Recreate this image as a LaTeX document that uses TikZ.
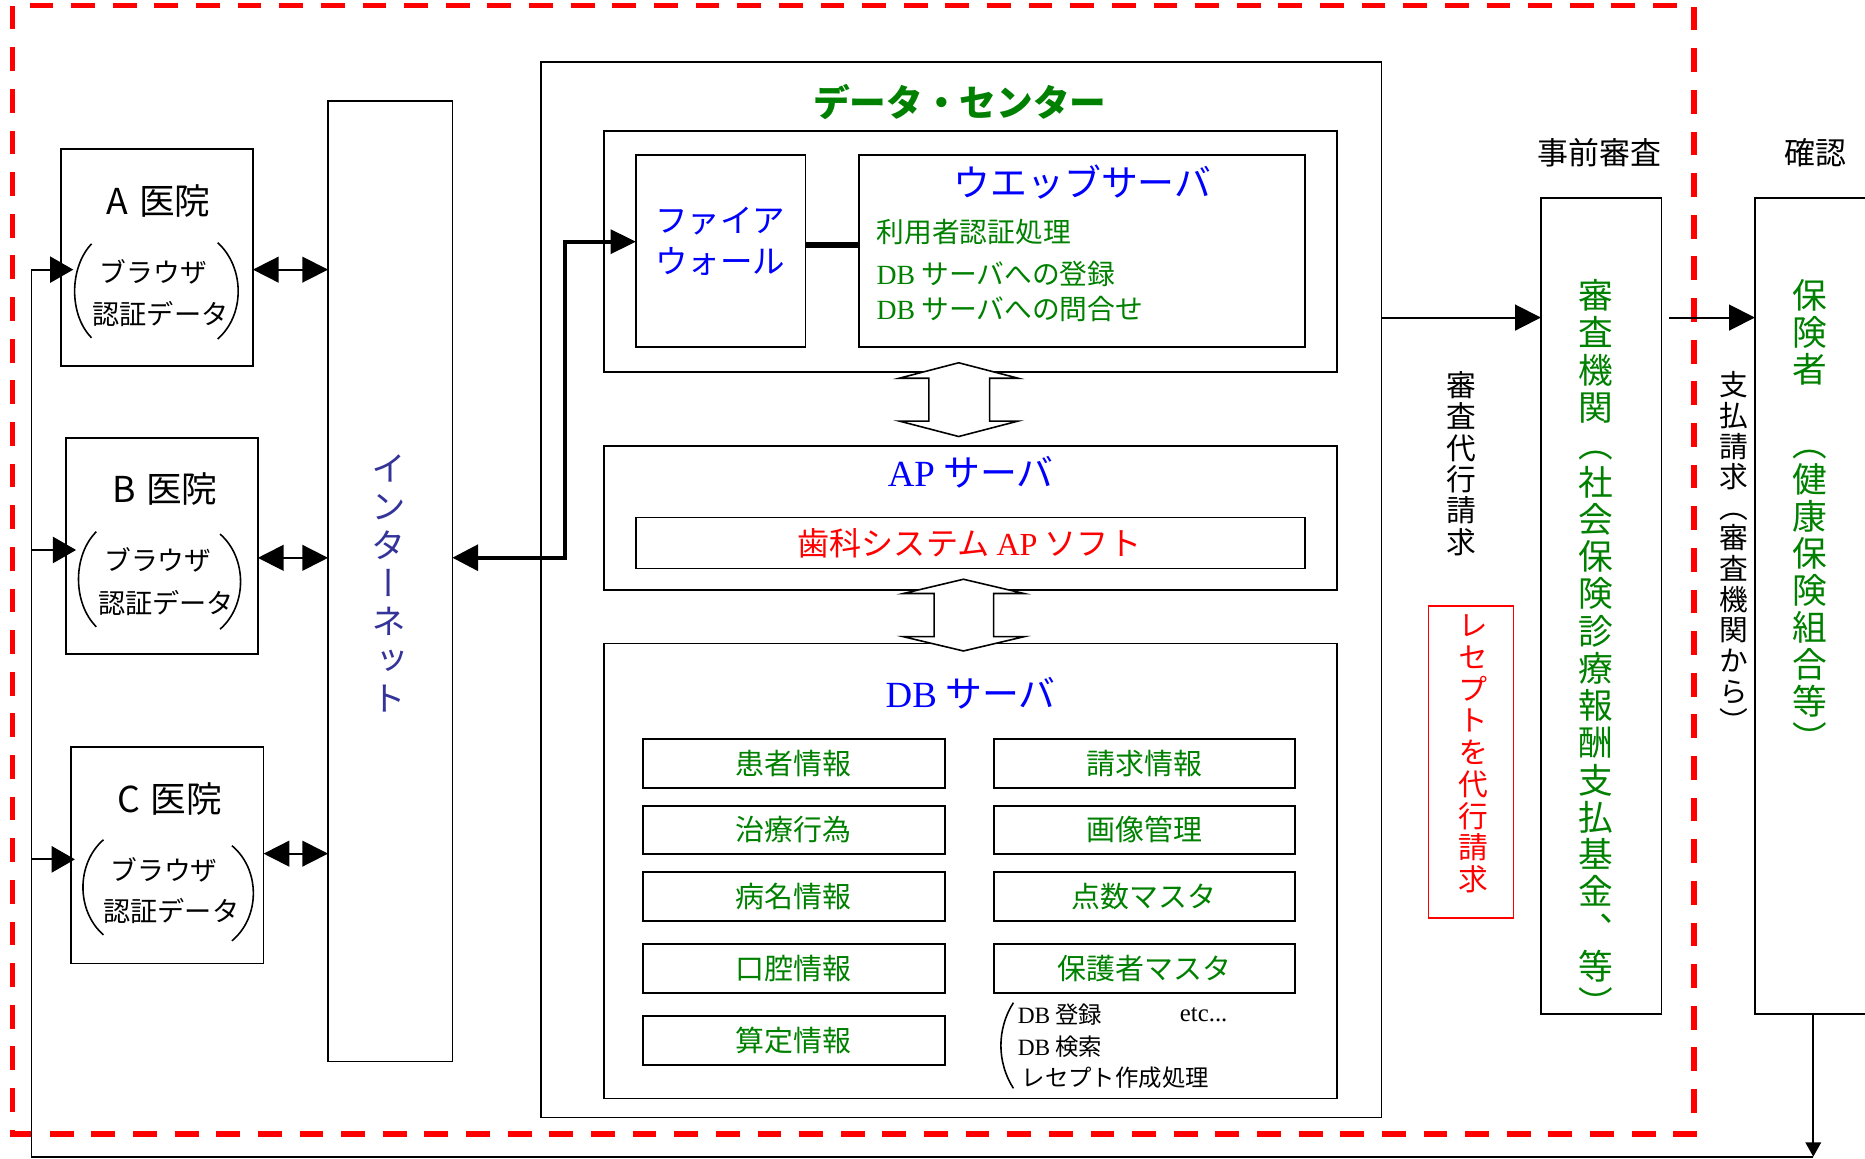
\documentclass[tikz,border=0pt]{standalone}
\usepackage{fontspec}
\setmainfont{Noto Sans CJK JP}
\newfontfamily\vjp[RawFeature=+vert]{Noto Sans CJK JP}
\newfontfamily\lserif{Liberation Serif}
\usetikzlibrary{arrows.meta,fit}
\definecolor{dgreen}{RGB}{0,128,0}
\definecolor{iblue}{RGB}{51,51,153}
\definecolor{pblue}{RGB}{0,0,255}
\definecolor{pred}{RGB}{255,0,0}
\newcommand\myfs[2]{\fontsize{#1pt}{#2pt}\selectfont}
\begin{document}
\begin{tikzpicture}[x=0.6pt,y=-0.6pt,
  box/.style={draw=black,line width=0.9pt,inner sep=0pt,outer sep=0pt},
  txt/.style={inner sep=0pt,outer sep=0pt},
  larr/.style={line width=0.9pt,-{Triangle[length=11.7pt,width=13.2pt]}},
  darr/.style={line width=0.9pt,{Triangle[length=13pt,width=13pt]}-{Triangle[length=13pt,width=13pt]}},
  tarr/.style={line width=2pt,{Triangle[length=13pt,width=13pt]}-{Triangle[length=12.8pt,width=12pt]}},
  rarr/.style={line width=1pt,-{Triangle[length=13pt,width=13pt]}},
  sarr/.style={line width=0.9pt,-{Triangle[length=7.2pt,width=7.8pt]}},
  paren/.style={line width=0.8pt},
  blockarr/.style={draw=black,line width=0.8pt,fill=white},
  redframe/.style={draw=pred,line width=2.8pt,dash pattern=on 12pt off 9pt},
  dbitem/.style={box,line width=1pt},
  dbtxt/.style={txt,text=dgreen,font=\myfs{14.6}{17}},
  vcol/.style={txt,align=center,anchor=north},
]
\path[use as bounding box] (0,0) rectangle (1568,974);
\clip (0,0) rectangle (1568,974);

% red dashed frame
\draw[redframe] (10.6,4.8) rectangle (1424,953.5);

% clinics
\node[box,fit={(51,125.6) (212.6,307.4)}] (A) {};
\node[box,fit={(55.6,368) (216.8,549.8)}] (B) {};
\node[box,fit={(60,628.3) (221.6,810)}] (C) {};
\node[txt,font=\myfs{18}{20}] (At) at (133.5,169) {A\hspace{0.3em}医院};
\node[txt,font=\myfs{13.5}{16}] (Ab) at (129,229) {ブラウザ};
\node[txt,font=\myfs{13.7}{16}] (Ad) at (135,264) {認証データ};
\node[txt,font=\myfs{18}{20}] (Bt) at (138.6,411) {B\hspace{0.3em}医院};
\node[txt,font=\myfs{13.5}{16}] (Bb) at (132.7,471) {ブラウザ};
\node[txt,font=\myfs{13.7}{16}] (Bd) at (139.6,507) {認証データ};
\node[txt,font=\myfs{18}{20}] (Ct) at (142.6,672) {C\hspace{0.3em}医院};
\node[txt,font=\myfs{13.5}{16}] (Cb) at (138,731) {ブラウザ};
\node[txt,font=\myfs{13.7}{16}] (Cd) at (144,766) {認証データ};
% parentheses
\draw[paren] (77,205) .. controls (58,225) and (58,265) .. (77,284);
\draw[paren] (183,204) .. controls (206,225) and (206,265) .. (183,285);
\draw[paren] (81,447) .. controls (61,467) and (61,507) .. (81,527);
\draw[paren] (185,449) .. controls (208,469) and (208,509) .. (185,529);
\draw[paren] (87,706) .. controls (64,726) and (64,766) .. (87,786);
\draw[paren] (195,711) .. controls (219,731) and (219,771) .. (195,791);

% internet
\node[box,line width=0.8pt,fit={(275.8,85) (380.3,892.6)}] (inet) {};
\node[vcol,text=iblue,font=\vjp\myfs{17.5}{19.3}] (inett) at (326.5,382.5) {イ\\ン\\タ\\ー\\ネ\\ッ\\ト};

% data center
\node[box,fit={(455,52) (1161.5,939.5)}] (dc) {};
\node[txt,text=dgreen,font=\bfseries\myfs{18.5}{20}] (dct) at (807,86) {データ・センター};
\node[box,fit={(507.6,110) (1124,312.5)}] (wg) {};
\node[box,fit={(534.7,130.6) (677.3,292)}] (fw) {};
\node[box,fit={(722.5,130.6) (1097.4,292)}] (ws) {};
\node[txt,anchor=west,align=left,text=pblue,font=\myfs{16.4}{20.4}] (fwt) at (551,203) {ファイア\\ウォール};
\node[txt,text=pblue,font=\myfs{18.6}{20}] (wst) at (910,153) {ウエッブサーバ};
\node[txt,anchor=west,text=dgreen,font=\myfs{14}{16}] (ws1) at (737,195) {利用者認証処理};
\node[txt,anchor=west,text=dgreen,font=\myfs{14}{16}] (ws2) at (737,230) {{\lserif DB} サーバへの登録};
\node[txt,anchor=west,text=dgreen,font=\myfs{14}{16}] (ws3) at (737,260) {{\lserif DB} サーバへの問合せ};

\node[box,fit={(507.6,374.7) (1124,496)}] (ap) {};
\node[box,fit={(534.7,435) (1097,478)}] (aps) {};
\node[txt,text=pblue,font=\myfs{18.6}{20}] (apt) at (816,397) {{\lserif AP} サーバ};
\node[txt,text=pred,font=\myfs{16.2}{18}] (apst) at (815,457) {歯科システム {\lserif AP} ソフト};

\node[box,fit={(507.6,541) (1124,923.5)}] (db) {};
\node[txt,text=pblue,font=\myfs{18.6}{20}] (dbt) at (816,583) {{\lserif DB} サーバ};
\node[dbitem,fit={(540.4,621.3) (794.2,662.2)}] (d1) {};
\node[dbitem,fit={(835.4,621.3) (1088.4,662.2)}] (d2) {};
\node[dbitem,fit={(540.4,677.4) (794.2,718)}] (d3) {};
\node[dbitem,fit={(835.4,677.4) (1088.4,718)}] (d4) {};
\node[dbitem,fit={(540.4,733.4) (794.2,774)}] (d5) {};
\node[dbitem,fit={(835.4,733.4) (1088.4,774)}] (d6) {};
\node[dbitem,fit={(540.4,793.7) (794.2,834.6)}] (d7) {};
\node[dbitem,fit={(835.4,793.7) (1088.4,834.6)}] (d8) {};
\node[dbitem,fit={(540.4,854.2) (794.2,895.1)}] (d9) {};
\node[dbtxt] (d1t) at (d1.center) {患者情報};
\node[dbtxt] (d2t) at (d2.center) {請求情報};
\node[dbtxt] (d3t) at (d3.center) {治療行為};
\node[dbtxt] (d4t) at (d4.center) {画像管理};
\node[dbtxt] (d5t) at (d5.center) {病名情報};
\node[dbtxt] (d6t) at (d6.center) {点数マスタ};
\node[dbtxt] (d7t) at (d7.center) {口腔情報};
\node[dbtxt] (d8t) at (d8.center) {保護者マスタ};
\node[dbtxt] (d9t) at (d9.center) {算定情報};
\draw[paren] (852,843) .. controls (838,865) and (838,893) .. (852,915);
\node[txt,anchor=west,font=\myfs{11.8}{14}] (n1) at (855.7,853) {{\lserif DB} 登録};
\node[txt,anchor=west,font=\myfs{12.5}{14}] (n2) at (992,853) {\lserif etc...};
\node[txt,anchor=west,font=\myfs{11.8}{14}] (n3) at (855.7,880) {{\lserif DB} 検索};
\node[txt,anchor=west,font=\myfs{11.8}{14}] (n4) at (859,906) {レセプト作成処理};

% block arrows
\draw[blockarr] (806,305) -- (856,318) -- (832,318) -- (832,354) -- (856,354) -- (806,367)
  -- (756,354) -- (781,354) -- (781,318) -- (756,318) -- cycle;
\draw[blockarr] (810,487) -- (861,499) -- (835.4,499) -- (835.4,535.3) -- (861,535.3) -- (810,547.3)
  -- (759.5,535.3) -- (785.3,535.3) -- (785.3,499) -- (759.5,499) -- cycle;

% right side
\node[box,fit={(1295.5,166.2) (1396.8,852.4)}] (sk) {};
\node[box,fit={(1475.4,166.2) (1620,852.4)}] (hk) {};
\node[draw=pred,line width=0.8pt,inner sep=0pt,fit={(1201,509.3) (1272.4,771.7)}] (rb) {};
\node[txt,font=\myfs{15.6}{18}] (jz) at (1345,128) {事前審査};
\node[txt,font=\myfs{15.6}{18}] (kn) at (1526,128) {確認};
\node[vcol,text=dgreen,font=\vjp\myfs{17.5}{18.8}] (skt) at (1342,235)
  {審\\査\\機\\関\\（\\社\\会\\保\\険\\診\\療\\報\\酬\\支\\払\\基\\金\\、\\等\\）};
\node[vcol,text=dgreen,font=\vjp\myfs{17.5}{18.6}] (hkt) at (1522,235)
  {保\\険\\者\\　\\（\\健\\康\\保\\険\\組\\合\\等\\）};
\node[vcol,font=\vjp\myfs{15}{15.8}] (sdt) at (1228.6,312.5) {審\\査\\代\\行\\請\\求};
\node[vcol,text=pred,font=\vjp\myfs{15}{16}] (rbt) at (1238.5,517) {レ\\セ\\プ\\ト\\を\\代\\行\\請\\求};
\node[vcol,font=\vjp\myfs{14.5}{15.45}] (sht) at (1458,312.5) {支\\払\\請\\求\\（\\審\\査\\機\\関\\か\\ら\\）};

% coordinates
\coordinate (yA) at (0,226.7);
\coordinate (yBd) at (0,469);
\coordinate (yCd) at (0,717.7);
\coordinate (yR) at (0,267);
\coordinate (yC) at (0,206);
\coordinate (lb) at (26.4,972.5);
\coordinate (lt) at (26.4,226.7);
\coordinate (lB) at (26.4,462.4);
\coordinate (lC) at (26.4,722.5);
\coordinate (tA) at (61.6,226.7);
\coordinate (tB) at (64,462.4);
\coordinate (tC) at (63,722.5);
\coordinate (rbot) at (1524.5,972.5);
\coordinate (jI) at (475.2,468.9);
\coordinate (jF) at (475.2,203.2);
\coordinate (sA) at (1403.5,267);

% connectors
\draw[line width=0.9pt] (rbot) -- (lb) -- (lt);
\draw[larr] (lt) -- (tA);
\draw[larr] (lB) -- (tB);
\draw[larr] (lC) -- (tC);
\draw[sarr] (hk.south -| rbot) -- (rbot);
\draw[darr] (A.east |- yA) -- (inet.west |- yA);
\draw[darr] (B.east |- yBd) -- (inet.west |- yBd);
\draw[darr] (C.east |- yCd) -- (inet.west |- yCd);
\draw[tarr] (inet.east |- jI) -- (jI) -- (jF) -- (fw.west |- jF);
\draw[line width=2.7pt] (fw.east |- yC) -- (ws.west |- yC);
\draw[rarr] (dc.east |- yR) -- (sk.west |- yR);
\draw[rarr] (sA) -- (hk.west |- yR);
\end{tikzpicture}
\end{document}
